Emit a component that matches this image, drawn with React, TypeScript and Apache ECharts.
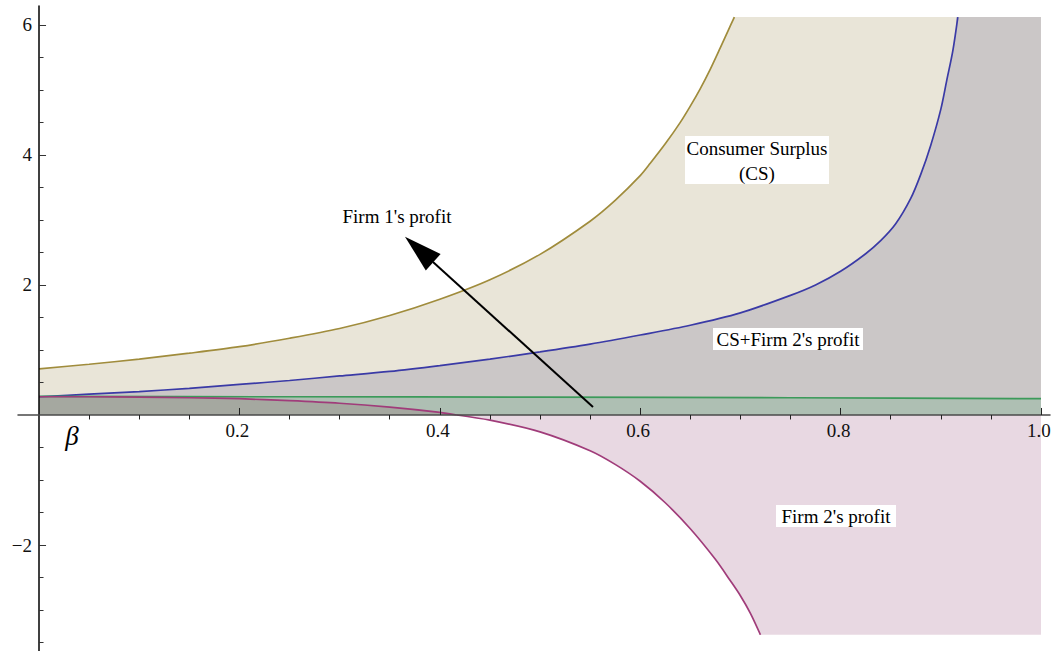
import React, { useEffect, useRef } from "react";
import * as echarts from "echarts";

// Curves: [beta, value]
const GOLD: [number, number][] = [
  [0, 0.71], [0.05, 0.78], [0.1, 0.86], [0.15, 0.95], [0.2, 1.05], [0.25, 1.18],
  [0.3, 1.33], [0.35, 1.53], [0.4, 1.78], [0.45, 2.08], [0.5, 2.47], [0.55, 2.98],
  [0.575, 3.3], [0.6, 3.68], [0.61, 3.87], [0.625, 4.17], [0.64, 4.5], [0.65, 4.75],
  [0.66, 5.02], [0.67, 5.32], [0.68, 5.65], [0.688, 5.92], [0.694, 6.12],
];
const BLUE: [number, number][] = [
  [0, 0.28], [0.05, 0.32], [0.1, 0.36], [0.15, 0.41], [0.2, 0.47], [0.25, 0.53],
  [0.3, 0.6], [0.35, 0.67], [0.4, 0.76], [0.45, 0.86], [0.5, 0.97], [0.55, 1.09],
  [0.6, 1.23], [0.65, 1.38], [0.7, 1.57], [0.75, 1.84], [0.775, 2.0], [0.8, 2.21],
  [0.825, 2.48], [0.84, 2.68], [0.855, 2.94], [0.87, 3.33], [0.88, 3.7], [0.89, 4.15],
  [0.9, 4.7], [0.906, 5.15], [0.912, 5.6], [0.917, 6.12],
];
const GREEN: [number, number][] = [
  [0, 0.285], [0.25, 0.28], [0.5, 0.275], [0.75, 0.265], [1.0, 0.25],
];
const MAGENTA: [number, number][] = [
  [0, 0.28], [0.05, 0.28], [0.1, 0.275], [0.15, 0.265], [0.2, 0.25], [0.25, 0.22],
  [0.3, 0.18], [0.35, 0.12], [0.4, 0.04], [0.417, 0], [0.45, -0.08], [0.5, -0.26],
  [0.55, -0.55], [0.575, -0.76], [0.6, -1.02], [0.625, -1.35], [0.65, -1.75],
  [0.675, -2.22], [0.69, -2.55], [0.7, -2.78], [0.71, -3.05], [0.72, -3.38],
];

const PLOT_TOP = 6.12;
const PLOT_BOTTOM = -3.38;
const BETA_END = 1.0;
const CROSS_BETA = 0.417;
const SEAM = 0.0015;

const X_MAJOR = [0.2, 0.4, 0.6, 0.8, 1.0];
const X_MAJOR_LABELS = ["0.2", "0.4", "0.6", "0.8", "1.0"];
const X_MINOR = [0.05, 0.1, 0.15, 0.25, 0.3, 0.35, 0.45, 0.5, 0.55, 0.65, 0.7, 0.75, 0.85, 0.9, 0.95];
const Y_MAJOR = [-2, 2, 4, 6];
const Y_MAJOR_LABELS = ["\u22122", "2", "4", "6"];
const Y_MINOR = [-3.5, -3, -2.5, -1.5, -1, -0.5, 0.5, 1, 1.5, 2.5, 3, 3.5, 4.5, 5, 5.5];

const X_MIN = -0.021;
const X_MAX = 1.009;
const Y_MIN = -3.63;
const Y_MAX = 6.29;

const FONT = "Liberation Serif";
const SMOOTH = 0.3;

export default function App() {
  const ref = useRef<HTMLDivElement>(null);
  useEffect(() => {
    if (!ref.current) return;
    const chart = echarts.init(ref.current, null, { renderer: "svg" });

    const curve = (name: string, data: [number, number][], lineColor: string, areaColor: string, showLine = true) => ({
      name,
      type: "line",
      data,
      smooth: showLine ? SMOOTH : false,
      symbol: "none",
      lineStyle: showLine ? { width: 1.7, color: lineColor } : { width: 0, opacity: 0 },
      areaStyle: { color: areaColor, opacity: 1 },
      silent: true,
      z: 2,
    });

    const baseX = { type: "value", min: X_MIN, max: X_MAX, splitLine: { show: false }, z: 10 };
    const baseY = { type: "value", min: Y_MIN, max: Y_MAX, splitLine: { show: false }, z: 10 };

    const goldTop = GOLD[GOLD.length - 1][0];
    const blueTop = BLUE[BLUE.length - 1][0];
    const magBottom = MAGENTA[MAGENTA.length - 1][0];

    const option: any = {
      animation: false,
      grid: { left: 18, right: 8, top: 6, bottom: 0, containLabel: false },
      xAxis: [
        {
          ...baseX,
          axisLine: { onZero: true, onZeroAxisIndex: 0, lineStyle: { color: "#4a4a4a", width: 1.5 } },
          axisTick: { inside: true, length: 7, customValues: X_MAJOR, lineStyle: { color: "#222", width: 1 } },
          axisLabel: { show: false },
        },
        {
          ...baseX,
          axisLine: { show: false, onZero: true, onZeroAxisIndex: 0 },
          axisTick: { inside: true, length: 4.5, customValues: X_MINOR, lineStyle: { color: "#222", width: 1 } },
          axisLabel: { show: false },
        },
      ],
      yAxis: [
        {
          ...baseY,
          position: "left",
          axisLine: { onZero: true, onZeroAxisIndex: 0, lineStyle: { color: "#000", width: 1.5 } },
          axisTick: { inside: true, length: 7, customValues: Y_MAJOR, lineStyle: { color: "#333", width: 1 } },
          axisLabel: { show: false },
        },
        {
          ...baseY,
          position: "left",
          axisLine: { show: false, onZero: true, onZeroAxisIndex: 0 },
          axisTick: { inside: true, length: 4.5, customValues: Y_MINOR, lineStyle: { color: "#333", width: 1 } },
          axisLabel: { show: false },
        },
      ],
      series: [
        curve("CS top", [[goldTop - SEAM, PLOT_TOP], [BETA_END, PLOT_TOP]], "", "#e9e5d8", false),
        curve("CS", GOLD, "#a08c3c", "#e9e5d8"),
        curve("CS+Firm 2 top", [[blueTop - SEAM, PLOT_TOP], [BETA_END, PLOT_TOP]], "", "#cbc7c7", false),
        curve("CS+Firm 2's profit", BLUE, "#3a3aa6", "#cbc7c7"),
        curve("Firm 1", GREEN, "#3c9a5a", "#aebfb3"),
        curve("Firm 2 positive", MAGENTA.filter((p) => p[0] <= CROSS_BETA), "#a03c7a", "#a5a8a0"),
        curve("Firm 2 bottom", [[magBottom - SEAM, PLOT_BOTTOM], [BETA_END, PLOT_BOTTOM]], "", "#e8d8e2", false),
        curve("Firm 2 negative", MAGENTA.filter((p) => p[0] >= CROSS_BETA), "#a03c7a", "#e8d8e2"),
      ],
    };
    chart.setOption(option);

    const px = (x: number, y: number) => chart.convertToPixel({ gridIndex: 0 }, [x, y]) as number[];
    const origin = px(0, 0);
    const g: any[] = [];
    X_MAJOR.forEach((v, i) => {
      const p = px(v, 0);
      g.push({ type: "text", z: 100, x: p[0] - 2, y: origin[1] + 6, style: { text: X_MAJOR_LABELS[i], font: `19px ${FONT}`, fill: "#111", align: "center", verticalAlign: "top" } });
    });
    Y_MAJOR.forEach((v, i) => {
      const p = px(0, v);
      g.push({ type: "text", z: 100, x: origin[0] - 7, y: p[1], style: { text: Y_MAJOR_LABELS[i], font: `19px ${FONT}`, fill: "#111", align: "right", verticalAlign: "middle" } });
    });
    g.push(
      { type: "text", z: 100, x: 72, y: 436, style: { text: "\u03b2", font: `italic 27px ${FONT}`, fill: "#000", align: "center", verticalAlign: "middle" } },
      { type: "rect", z: 100, shape: { x: 685, y: 136, width: 144, height: 48 }, style: { fill: "#fff" } },
      { type: "text", z: 101, x: 757, y: 148, style: { text: "Consumer Surplus", font: `19px ${FONT}`, fill: "#000", align: "center", verticalAlign: "middle" } },
      { type: "text", z: 101, x: 757, y: 173, style: { text: "(CS)", font: `19px ${FONT}`, fill: "#000", align: "center", verticalAlign: "middle" } },
      { type: "rect", z: 100, shape: { x: 713, y: 328, width: 150, height: 22 }, style: { fill: "#fff" } },
      { type: "text", z: 101, x: 788, y: 339, style: { text: "CS+Firm 2's profit", font: `19px ${FONT}`, fill: "#000", align: "center", verticalAlign: "middle" } },
      { type: "rect", z: 100, shape: { x: 776, y: 505, width: 120, height: 22 }, style: { fill: "#fff" } },
      { type: "text", z: 101, x: 836, y: 516, style: { text: "Firm 2's profit", font: `19px ${FONT}`, fill: "#000", align: "center", verticalAlign: "middle" } },
      { type: "text", z: 101, x: 397, y: 216, style: { text: "Firm 1's profit", font: `19px ${FONT}`, fill: "#000", align: "center", verticalAlign: "middle" } },
      { type: "line", z: 100, shape: { x1: 593, y1: 407, x2: 433, y2: 262 }, style: { stroke: "#000", lineWidth: 2 } },
      { type: "polygon", z: 100, shape: { points: [[405, 236.7], [440.6, 254.1], [425.8, 270.4]] }, style: { fill: "#000" } }
    );
    chart.setOption({ graphic: g });
    return () => chart.dispose();
  }, []);
  return <div ref={ref} style={{ position: "absolute", left: 0, top: 0, width: 1058, height: 651 }} />;
}
